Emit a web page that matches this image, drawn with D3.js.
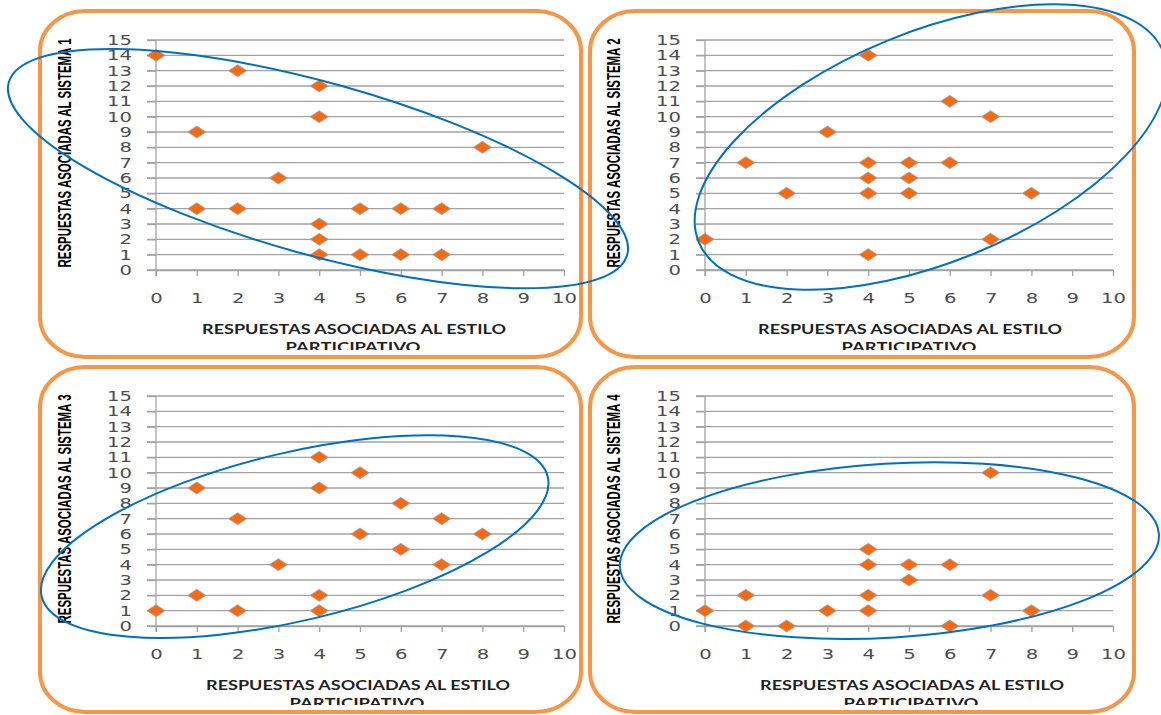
<!DOCTYPE html>
<html>
<head>
<meta charset="utf-8">
<script src="https://cdn.jsdelivr.net/npm/d3@7"></script>
<style>
  html, body { margin: 0; padding: 0; background: #fff; }
  svg { display: block; }
</style>
</head>
<body>
<div id="chart"></div>
<script>
// Responses per respondent: participative style (x) vs. each management system (y)
const participativo1 = [0, 2, 4, 4, 1, 8, 3, 1, 2, 5, 6, 7, 4, 4, 4, 5, 6, 7];
const sistema1       = [14, 13, 12, 10, 9, 8, 6, 4, 4, 4, 4, 4, 3, 2, 1, 1, 1, 1];

const participativo2 = [4, 6, 7, 3, 1, 4, 5, 6, 4, 5, 2, 4, 5, 8, 0, 7, 4];
const sistema2       = [14, 11, 10, 9, 7, 7, 7, 7, 6, 6, 5, 5, 5, 5, 2, 2, 1];

const participativo3 = [4, 5, 1, 4, 6, 2, 7, 5, 8, 6, 3, 7, 1, 4, 0, 2, 4];
const sistema3       = [11, 10, 9, 9, 8, 7, 7, 6, 6, 5, 4, 4, 2, 2, 1, 1, 1];

const participativo4 = [7, 4, 4, 5, 6, 5, 1, 4, 7, 0, 3, 4, 8, 1, 2, 6];
const sistema4       = [10, 5, 4, 4, 4, 3, 2, 2, 2, 1, 1, 1, 1, 0, 0, 0];

const xTickValues = [0, 1, 2, 3, 4, 5, 6, 7, 8, 9, 10];
const yTickValues = [0, 1, 2, 3, 4, 5, 6, 7, 8, 9, 10, 11, 12, 13, 14, 15];

const yTitles = [
  "RESPUESTAS ASOCIADAS AL SISTEMA 1",
  "RESPUESTAS ASOCIADAS AL SISTEMA 2",
  "RESPUESTAS ASOCIADAS AL SISTEMA 3",
  "RESPUESTAS ASOCIADAS AL SISTEMA 4"
];
const xTitleLines = ["RESPUESTAS ASOCIADAS AL ESTILO", "PARTICIPATIVO"];

// Cluster outlines, centred in data units
const clusterCenters = [
  { x: 3.97, y: 6.61 },
  { x: 5.54, y: 8.02 },
  { x: 3.40, y: 5.83 },
  { x: 4.52, y: 4.92 }
];

// ---- layout ----
const W = 1161, H = 715;
const plotW = 408, plotH = 230;
const panels = [
  { box: [40, 11, 541, 346], x0: 156, y0: 270, titleDx: 198 },
  { box: [590, 11, 544, 346], x0: 705, y0: 270, titleDx: 205 },
  { box: [40, 367, 541, 345], x0: 156, y0: 626, titleDx: 202 },
  { box: [590, 367, 544, 345], x0: 705, y0: 626, titleDx: 207 }
];
const ellipseShapes = [
  { rx: 321, ry: 86, rot: 15.6 },
  { rx: 251, ry: 115, rot: -22.25 },
  { rx: 260, ry: 84, rot: -13.3 },
  { rx: 270, ry: 87, rot: -3.5 }
];
const seriesX = [participativo1, participativo2, participativo3, participativo4];
const seriesY = [sistema1, sistema2, sistema3, sistema4];

const svg = d3.select("#chart").append("svg")
  .attr("width", W).attr("height", H)
  .attr("viewBox", `0 0 ${W} ${H}`);

svg.append("rect").attr("width", W).attr("height", H).attr("fill", "#fff");

const defs = svg.append("defs");
const gridColor = "#a3a3a3";
const labelFont = "'DejaVu Sans', Verdana, sans-serif";
const labelStretch = 1.4;
const diamond = "M0,-6L9,0L0,6L-9,0Z";

// fit a text element to a target length by stretching along its baseline
function fitLength(sel, target, baseTransform) {
  const natural = sel.node().getComputedTextLength();
  const k = target / natural;
  sel.attr("transform", `${baseTransform} scale(${k},1)`);
}

const scales = [];

panels.forEach((p, i) => {
  const [bx, by, bw, bh] = p.box;
  const x = d3.scaleLinear().domain([0, 10]).range([p.x0, p.x0 + plotW]);
  const y = d3.scaleLinear().domain([0, 15]).range([p.y0, p.y0 - plotH]);
  scales.push({ x, y });

  const g = svg.append("g").attr("class", "panel");

  // rounded frame
  g.append("rect")
    .attr("x", bx).attr("y", by).attr("width", bw).attr("height", bh)
    .attr("rx", 45).attr("ry", 40)
    .attr("fill", "#fff")
    .attr("stroke", "#f79646").attr("stroke-width", 4);

  // horizontal gridlines (also serve as the y-axis ticks)
  g.append("g").selectAll("line").data(yTickValues).join("line")
    .attr("x1", p.x0 - 9).attr("x2", p.x0 + plotW)
    .attr("y1", d => y(d)).attr("y2", d => y(d))
    .attr("stroke", gridColor).attr("stroke-width", 1.3);

  // y axis
  const yAxis = g.append("g")
    .attr("transform", `translate(${p.x0},0)`)
    .call(d3.axisLeft(y).tickValues(yTickValues).tickSizeInner(9).tickSizeOuter(0).tickPadding(15));
  yAxis.select(".domain").attr("stroke", gridColor).attr("stroke-width", 1.3)
    .attr("d", `M0,${p.y0 + 6}V${y(15)}`);
  yAxis.selectAll(".tick line").attr("stroke", gridColor).attr("stroke-width", 1.3);
  yAxis.selectAll(".tick text")
    .attr("fill", "#4d4d4d").attr("font-family", labelFont)
    .attr("font-size", 14)
    .each(function () {
      const t = d3.select(this);
      const tx = +t.attr("x");
      t.attr("x", 0).attr("transform", `translate(${tx},0) scale(${labelStretch},1)`);
    });

  // x axis
  const xAxis = g.append("g")
    .attr("transform", `translate(0,${p.y0})`)
    .call(d3.axisBottom(x).tickValues(xTickValues).tickSizeInner(6).tickSizeOuter(0).tickPadding(17));
  xAxis.select(".domain").attr("stroke", gridColor).attr("stroke-width", 1.3);
  xAxis.selectAll(".tick line").attr("stroke", gridColor).attr("stroke-width", 1.3);
  xAxis.selectAll(".tick text")
    .attr("fill", "#4d4d4d").attr("font-family", labelFont)
    .attr("font-size", 14)
    .attr("transform", `scale(${labelStretch},1)`);

  // y title
  const yt = g.append("text")
    .attr("text-anchor", "middle")
    .attr("font-family", "'Liberation Sans Narrow', 'Arial Narrow', 'Liberation Sans', sans-serif")
    .attr("font-weight", "bold").attr("font-size", 18)
    .attr("fill", "#000")
    .text(yTitles[i]);
  fitLength(yt, 229, `translate(${p.x0 - 85},${p.y0 - 117}) rotate(-90)`);

  // x title, second line runs under the frame edge
  const clipId = `clip-${i}`;
  defs.append("clipPath").attr("id", clipId)
    .append("rect").attr("x", bx).attr("y", by).attr("width", bw).attr("height", bh - 7);
  const xt = g.append("g").attr("clip-path", `url(#${clipId})`);
  const titleX = p.x0 + p.titleDx;
  const lineLens = [304, 135];
  xTitleLines.forEach((line, k) => {
    const t = xt.append("text")
      .attr("text-anchor", "middle")
      .attr("font-family", "Lato, 'Open Sans', sans-serif")
      .attr("font-weight", "bold").attr("font-size", 14)
      .attr("fill", "#1f1f1f")
      .text(line);
    fitLength(t, lineLens[k], `translate(${k === 0 ? titleX : titleX - 1},${p.y0 + 64 + k * 18})`);
  });

  // points
  g.append("g").selectAll("path")
    .data(seriesX[i].map((v, k) => [v, seriesY[i][k]]))
    .join("path")
    .attr("d", diamond)
    .attr("transform", d => `translate(${x(d[0])},${y(d[1])})`)
    .attr("fill", "#fa690c")
    .attr("stroke", "#8fa6c9").attr("stroke-width", 0.8);
});

// cluster ellipses drawn on top of everything
const ell = svg.append("g").attr("class", "clusters");
clusterCenters.forEach((c, i) => {
  const { x, y } = scales[i];
  const s = ellipseShapes[i];
  const cx = x(c.x), cy = y(c.y);
  ell.append("ellipse")
    .attr("cx", cx).attr("cy", cy)
    .attr("rx", s.rx).attr("ry", s.ry)
    .attr("transform", `rotate(${s.rot},${cx},${cy})`)
    .attr("fill", "none")
    .attr("stroke", "#0070c0").attr("stroke-width", 2);
});
</script>
</body>
</html>
